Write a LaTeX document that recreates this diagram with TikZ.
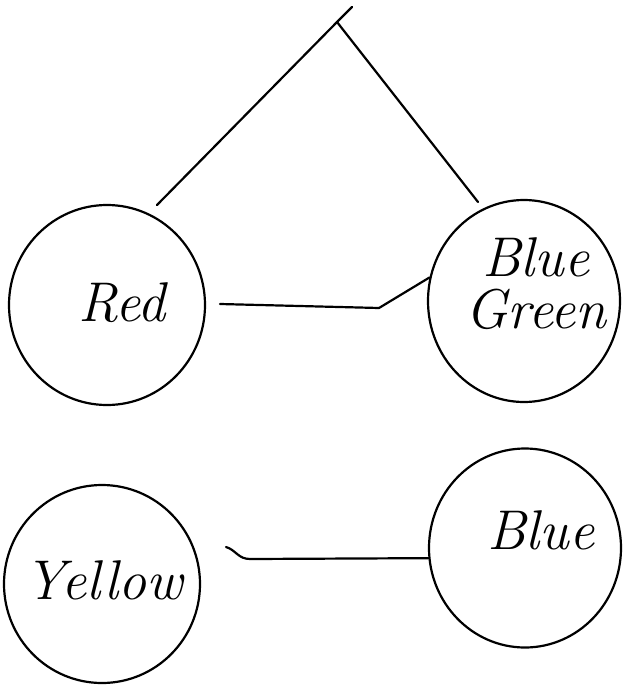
\documentclass[tikz,border=0pt]{standalone}
\usepackage{fontspec}
\usetikzlibrary{shapes.geometric}
\begin{document}
\begin{tikzpicture}[x=1pt,y=-1pt,line width=2.2pt,
  blob/.style={ellipse,draw,inner sep=0pt},
  word/.style={font=\fontsize{56}{62}\selectfont\itshape,inner sep=0pt,align=center},
  wire/.style={line cap=round,line join=round}]
\useasboundingbox (0,0) rectangle (622,688);
% circles
\node[blob,minimum width=196pt,minimum height=200pt] (red) at (107,305) {};
\node[blob,minimum width=192pt,minimum height=202pt] (bg) at (524,301) {};
\node[blob,minimum width=196pt,minimum height=198pt] (yellow) at (102,584) {};
\node[blob,minimum width=192pt,minimum height=199pt] (blue) at (525,548) {};
% labels
\node[word] (tred) at (122,303) {Red};
\node[word] (tblue1) at (536,257) {Blue};
\node[word] (tgreen) at (536,309) {Green};
\node[word] (tyellow) at (104,580) {Yellow};
\node[word] (tblue2) at (541,530) {Blue};
% top fork
\coordinate (tick) at (352,7);
\coordinate (apex) at (337,22);
\coordinate (lend) at (157,205);
\coordinate (rend) at (478,202);
\draw[wire] (tick) -- (apex) -- (lend);
\draw[wire] (apex) -- (rend);
% red -- blue green
\coordinate (m1) at (220,304);
\coordinate (m2) at (379,308);
\draw[wire] (m1) -- (m2) -- (bg.166);
% yellow -- blue
\coordinate (y1) at (226,547);
\coordinate (y2) at (250,559);
\draw[wire] (y1) .. controls (236,550) and (238,559) .. (y2) -- (blue.186);
\end{tikzpicture}
\end{document}
